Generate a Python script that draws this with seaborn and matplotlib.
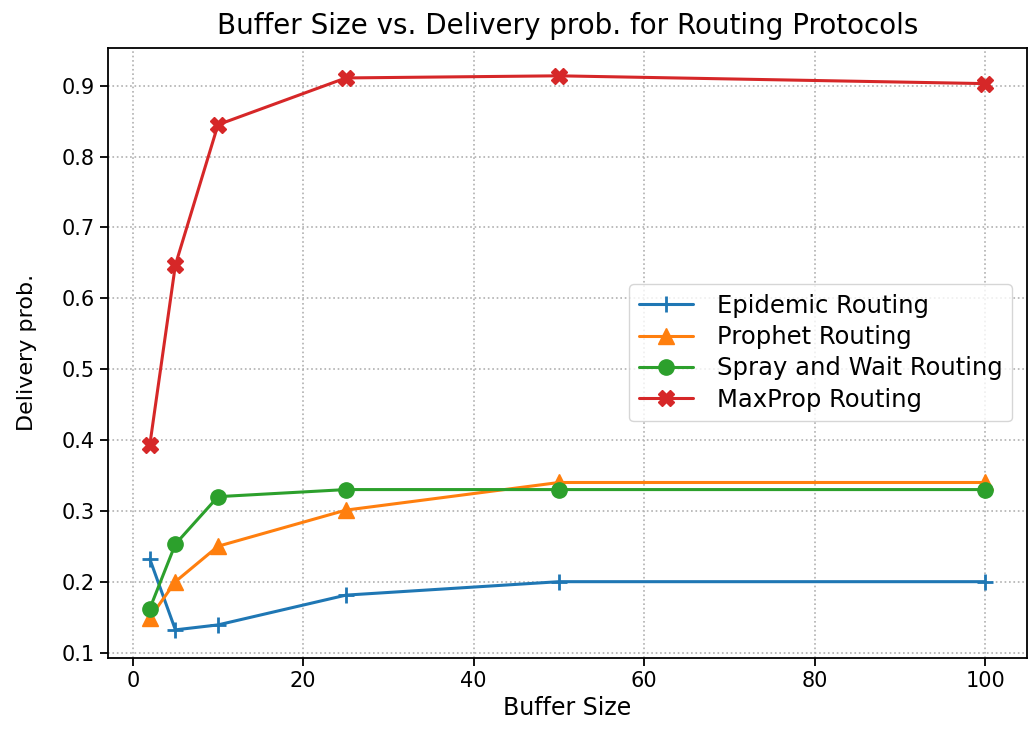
import pandas as pd
import seaborn as sns
import matplotlib
matplotlib.use("Agg")
import matplotlib.pyplot as plt

buffer_size = [2, 5, 10, 25, 50, 100]
epidemic = [0.232, 0.132, 0.139, 0.181, 0.200, 0.200]
prophet = [0.149, 0.200, 0.250, 0.301, 0.340, 0.340]
spray_wait = [0.162, 0.253, 0.320, 0.330, 0.330, 0.330]
maxprop = [0.393, 0.647, 0.845, 0.911, 0.914, 0.903]

protocols = ["Epidemic Routing", "Prophet Routing", "Spray and Wait Routing", "MaxProp Routing"]
markers = ["+", "^", "o", "X"]
colors = ["#1f77b4", "#ff7f0e", "#2ca02c", "#d62728"]

sns.set_style("white")
plt.rcParams['font.family'] = ['DejaVu Sans']
plt.rcParams['text.color'] = 'black'
plt.rcParams['axes.labelcolor'] = 'black'
plt.rcParams['xtick.color'] = 'black'
plt.rcParams['ytick.color'] = 'black'

fig, ax = plt.subplots(figsize=(10.29, 7.29), dpi=100)

for name, vals, mk, col in zip(protocols, [epidemic, prophet, spray_wait, maxprop], markers, colors):
    df = pd.DataFrame({"Buffer Size": buffer_size, "Delivery prob.": vals})
    sns.lineplot(ax=ax, data=df, x="Buffer Size", y="Delivery prob.", marker=mk,
                 color=col, label=name, linewidth=2.2, markersize=11,
                 markeredgecolor=col, markeredgewidth=2 if mk == "+" else 1)

ax.set_xticks([0, 20, 40, 60, 80, 100])
ax.set_yticks([0.1, 0.2, 0.3, 0.4, 0.5, 0.6, 0.7, 0.8, 0.9])
ax.grid(True, linestyle=":", color="#b0b0b0", linewidth=1.2)
for s in ax.spines.values():
    s.set_color("black")
    s.set_linewidth(1.3)
ax.tick_params(axis="both", labelsize=15, length=6, width=1.3, direction="out",
               bottom=True, left=True)
ax.set_xlabel("Buffer Size", fontsize=17, labelpad=4)
ax.set_ylabel("Delivery prob.", fontsize=16, labelpad=18)
ax.set_title("Buffer Size vs. Delivery prob. for Routing Protocols", fontsize=20, pad=10)
ax.legend(loc="center right", fontsize=17.5, frameon=True, edgecolor="#cccccc",
          handlelength=2.2, handletextpad=1.0, labelspacing=0.3, borderaxespad=0.6)

plt.subplots_adjust(left=0.105, right=0.998, top=0.934, bottom=0.098)
plt.savefig("out.png", dpi=100)
